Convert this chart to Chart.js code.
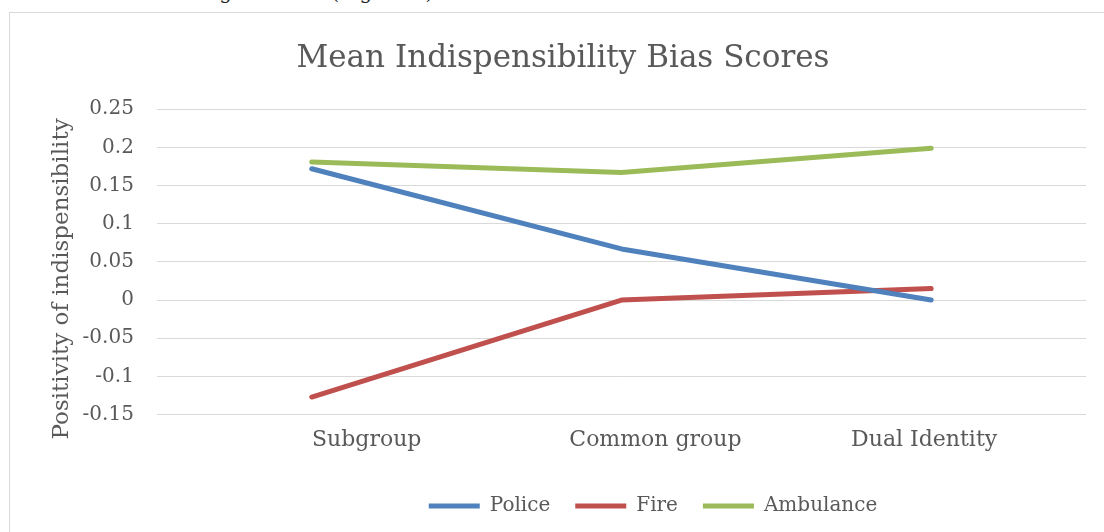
<!DOCTYPE html>
<html>
<head>
<meta charset="utf-8">
<script src="https://cdn.jsdelivr.net/npm/chart.js"></script>
<style>
    html, body { margin: 0; padding: 0; background: #fff; width: 1104px; height: 532px; overflow: hidden; }
    .caption { position: absolute; left: 0; top: -20px; font-family: "DejaVu Serif"; font-size: 20px; color: #222; white-space: nowrap; }
    .frame { position: absolute; left: 9px; top: 12px; width: 1200px; height: 600px; border: 1px solid #d9d9d9; }
    #myChart { position: absolute; left: 10px; top: 13px; }
</style>
</head>
<body>
<div class="caption">relative to the own organization (Figure 3)</div>
<div class="frame"></div>
<canvas id="myChart" width="1105" height="519"></canvas>
<script>
// Datos del gráfico
const categories = ['Subgroup', 'Common group', 'Dual Identity'];
const police = [0.172, 0.067, 0.000];
const fire = [-0.127, 0.000, 0.015];
const ambulance = [0.181, 0.167, 0.199];
const yTickValues = [-0.15, -0.1, -0.05, 0, 0.05, 0.1, 0.15, 0.2, 0.25];
const yTickLabels = ['-0.15', '-0.1', '-0.05', '0', '0.05', '0.1', '0.15', '0.2', '0.25'];
const yTitle = 'Positivity of indispensibility';

// Estilo
const textColor = '#595959';
const serif = 'DejaVu Serif';
const labelShift = [55, 34, -7];   // las etiquetas del eje X no están centradas en el original
const yTitleShift = 17;            // el título del eje Y está un poco más abajo

// Dibuja las etiquetas de categoría y el título del eje Y desplazados
const shiftedTexts = {
    id: 'shiftedTexts',
    afterDraw(chart) {
        const ctx = chart.ctx;
        const xScale = chart.scales.x;
        const yScale = chart.scales.y;
        const area = chart.chartArea;
        ctx.save();
        ctx.fillStyle = textColor;
        ctx.textAlign = 'center';
        ctx.textBaseline = 'middle';
        ctx.font = `22px "${serif}"`;
        categories.forEach((label, i) => {
            ctx.fillText(label, xScale.getPixelForValue(i) + labelShift[i], area.bottom + 26);
        });
        ctx.font = `23px "${serif}"`;
        ctx.translate(yScale.left + 8 + 23 * 1.2 / 2, (area.top + area.bottom) / 2 + yTitleShift);
        ctx.rotate(-Math.PI / 2);
        ctx.fillText(yTitle, 0, 0);
        ctx.restore();
    }
};

// La leyenda del original está desplazada a la derecha
const legendShift = {
    id: 'legendShift',
    afterLayout(chart) {
        chart.legend.left += 90;
        chart.legend.right += 90;
    }
};

function line(label, data, color) {
    return {
        label: label,
        data: data,
        borderColor: color,
        backgroundColor: color,
        borderWidth: 5,
        borderCapStyle: 'round',
        borderJoinStyle: 'round',
        pointRadius: 0,
        tension: 0,
        fill: false
    };
}

const ctx = document.getElementById('myChart').getContext('2d');

new Chart(ctx, {
    type: 'line',
    data: {
        labels: categories,
        datasets: [
            line('Police', police, '#4f81bd'),
            line('Fire', fire, '#c0504d'),
            line('Ambulance', ambulance, '#9bbb59')
        ]
    },
    options: {
        responsive: false,
        animation: false,
        layout: { padding: { left: 30, right: 29, top: 10, bottom: 6 } },
        plugins: {
            title: {
                display: true,
                text: 'Mean Indispensibility Bias Scores',
                color: textColor,
                font: { family: serif, size: 31, weight: 'normal', lineHeight: 1.2 },
                padding: { top: 17, bottom: 32 }
            },
            legend: {
                position: 'bottom',
                labels: {
                    usePointStyle: true,
                    pointStyle: 'line',
                    pointStyleWidth: 51,
                    padding: 25,
                    color: textColor,
                    font: { family: serif, size: 20 }
                }
            },
            tooltip: { enabled: false }
        },
        scales: {
            x: {
                offset: true,
                grid: { display: false, drawTicks: false },
                border: { display: false },
                ticks: {
                    color: 'transparent',
                    padding: 15,
                    maxRotation: 0,
                    font: { family: serif, size: 22, lineHeight: 1.2 }
                }
            },
            y: {
                min: -0.15,
                max: 0.25,
                afterBuildTicks: axis => { axis.ticks = yTickValues.map(v => ({ value: v })); },
                grid: { color: '#d9d9d9', lineWidth: 1, drawTicks: false },
                border: { display: false },
                ticks: {
                    color: textColor,
                    padding: 23,
                    font: { family: serif, size: 20 },
                    callback: (value, index) => yTickLabels[index]
                },
                title: {
                    display: true,
                    text: yTitle,
                    color: 'transparent',
                    font: { family: serif, size: 23, lineHeight: 1.2 },
                    padding: { top: 8, bottom: -16 }
                }
            }
        }
    },
    plugins: [shiftedTexts, legendShift]
});
</script>
</body>
</html>
